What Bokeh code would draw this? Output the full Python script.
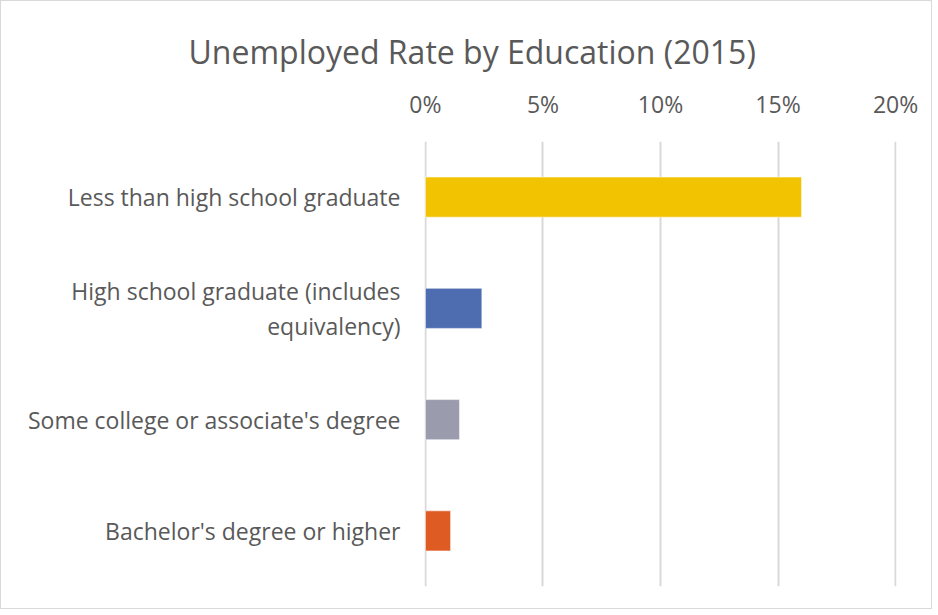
from bokeh.plotting import figure
from bokeh.models import FactorRange, Range1d, NumeralTickFormatter, FixedTicker, ColumnDataSource, LinearAxis, CategoricalAxis, Grid
from bokeh.embed import file_html
from bokeh.resources import INLINE

categories = ["Less than high school graduate",
              "High school graduate (includes\nequivalency)",
              "Some college or associate's degree",
              "Bachelor's degree or higher"]
rates = [0.160, 0.024, 0.0145, 0.0107]
colors = ["#F2C300", "#4E6DB0", "#9B9BAE", "#DF5B24"]
ticks = [0.0, 0.05, 0.10, 0.15, 0.20]

FONT = "Open Sans"
GREY = "#595959"

src = ColumnDataSource(dict(cat=categories, rate=rates, color=colors))

p = figure(width=932, height=609, output_backend="svg", toolbar_location=None,
           y_range=FactorRange(factors=list(reversed(categories)), range_padding=0),
           x_range=Range1d(-0.0004, 0.2004), x_axis_location=None, y_axis_location=None,
           min_border_left=423, min_border_right=37, min_border_top=140, min_border_bottom=24)

p.title.text = "Unemployed Rate by Education (2015)"
p.title.text_font = FONT
p.title.text_font_size = "32px"
p.title.text_font_style = "normal"
p.title.text_color = GREY
p.title.align = "left"
p.title.offset = -236
p.title.standoff = 24

xaxis = LinearAxis(ticker=FixedTicker(ticks=ticks), formatter=NumeralTickFormatter(format="0%"))
xaxis.axis_line_color = None
xaxis.major_tick_line_color = None
xaxis.minor_tick_line_color = None
xaxis.major_label_text_font = FONT
xaxis.major_label_text_font_size = "23px"
xaxis.major_label_text_color = GREY
xaxis.major_label_standoff = 16
p.add_layout(xaxis, "above")

yaxis = CategoricalAxis()
yaxis.axis_line_color = None
yaxis.major_tick_line_color = None
yaxis.minor_tick_line_color = None
yaxis.major_label_text_font = FONT
yaxis.major_label_text_font_size = "23px"
yaxis.major_label_text_color = GREY
yaxis.major_label_text_line_height = 1.08
yaxis.major_label_standoff = 18
p.add_layout(yaxis, "left")

p.hbar(y="cat", right="rate", left=0, height=0.36, color="color", line_color="white", line_alpha=0.5, source=src)

p.xgrid.visible = False
p.ygrid.visible = False
p.add_layout(Grid(dimension=0, ticker=xaxis.ticker, grid_line_color="#D9D9D9", grid_line_width=2), "center")

p.outline_line_color = None
p.styles = {"border": "1px solid #D9D9D9"}

open("out.html", "w").write(file_html(p, INLINE))
